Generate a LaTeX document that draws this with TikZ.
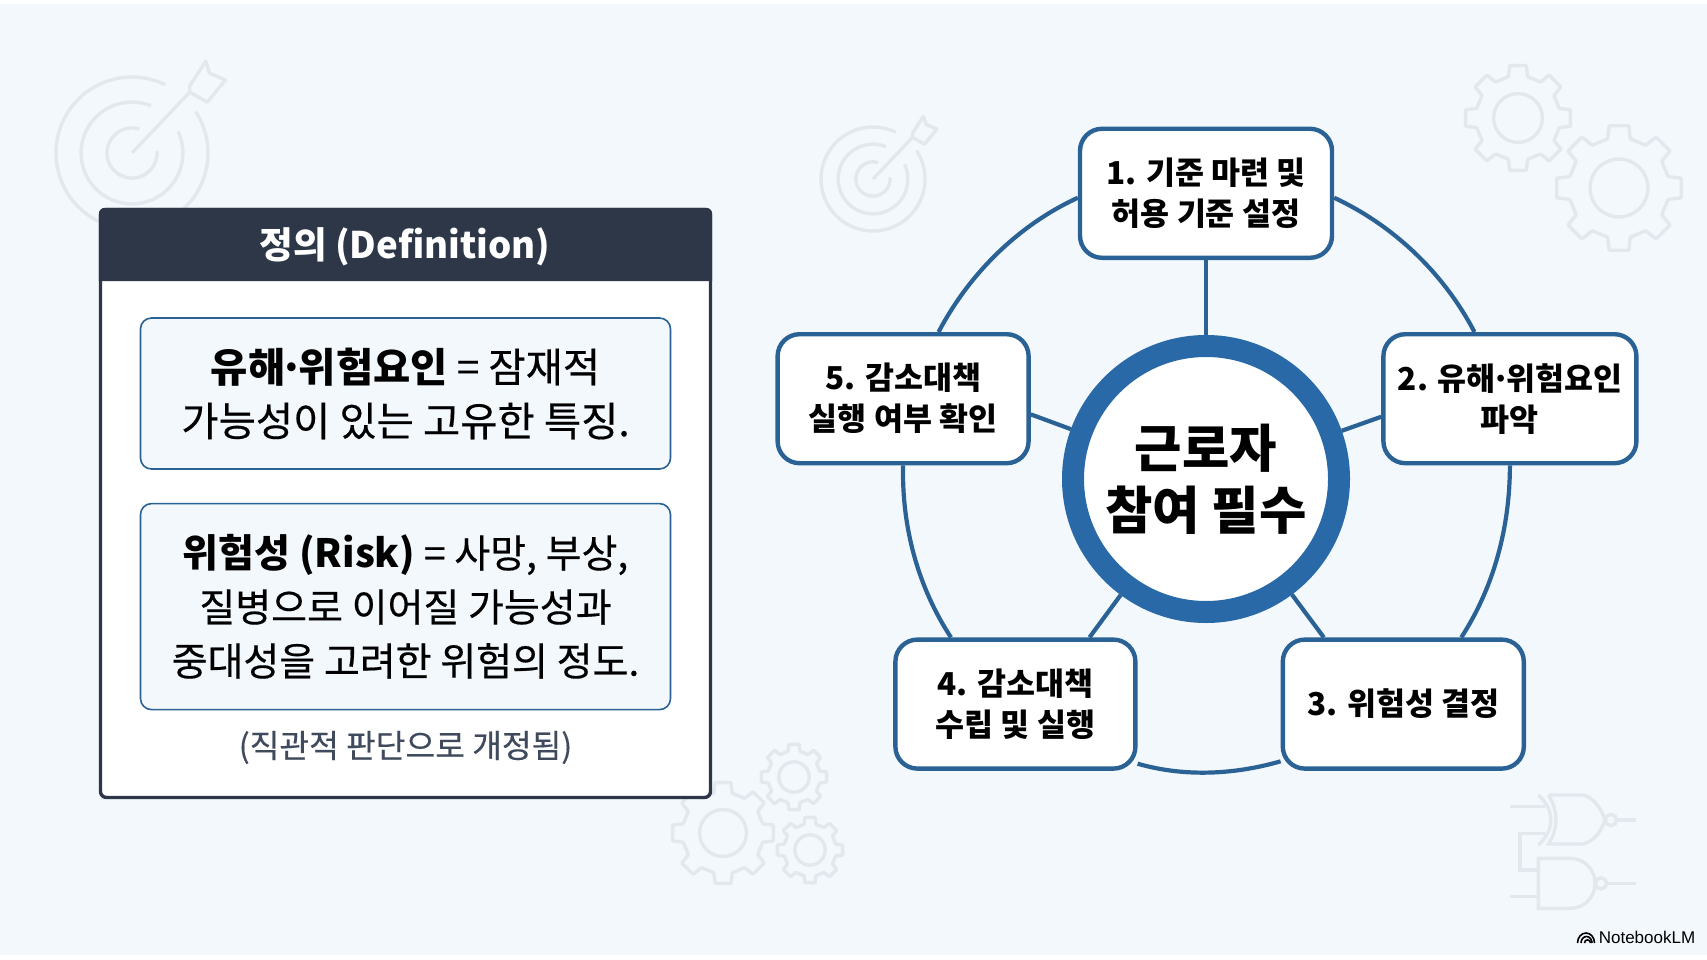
\documentclass[tikz,border=0pt]{standalone}
\usepackage{fontspec}
\setmainfont{Noto Sans CJK KR}
\newfontfamily\medfont[FakeBold=.4]{Noto Sans CJK KR}
\newfontfamily\logofont{Liberation Sans}
\usepackage{xcolor}
\usetikzlibrary{positioning}

\definecolor{pagebg}{HTML}{F3F8FC}
\definecolor{iconcol}{HTML}{E3E8EF}
\definecolor{headcol}{HTML}{2D3748}
\definecolor{ringcol}{HTML}{2B6295}
\definecolor{hubcol}{HTML}{2A69A8}
\definecolor{notecol}{HTML}{3F4A5C}

\newcommand{\keyterm}[1]{{\normalfont\bfseries #1}}
\newcommand{\tightdot}{\kern-.14em·\kern-.14em}

\tikzset{
  gearicon/.pic={
    \draw [icon,rounded corners=.8pt] (81:1)
      \foreach \a in {0,45,...,315} { -- (\a+81:1) -- (\a+99:1) -- (\a+103:.8) -- (\a+122:.8) } -- cycle;
    \draw [icon] (0,0) circle (.46);
  },
  targeticon/.pic={
    \draw [icon] (-64:1) arc [start angle=-64,end angle=-393,radius=1];
    \draw [icon] (-68:.67) arc [start angle=-68,end angle=-385,radius=.67];
    \draw [icon] (-73:.33) arc [start angle=-73,end angle=-365,radius=.33];
    \draw [icon] (0,0) -- (.76,-.8);
    \draw [icon,line join=round] (.76,-.885) -- (.97,-1.205) -- (1.02,-1.05) -- (1.23,-.96) -- (.99,-.67) -- (.76,-.8) -- cycle;
  }
}

\begin{document}
\begin{tikzpicture}[x=1pt,y=-1pt,auto]
  \tikzstyle{icon}=[draw=iconcol,line width=3.4pt]
  \tikzstyle{panel}=[rectangle,rounded corners=6pt,draw=headcol,line width=3.4pt,fill=white,inner sep=0pt,minimum width=610pt,minimum height=588pt]
  \tikzstyle{defbox}=[rectangle,rounded corners=11pt,draw=ringcol,line width=1.6pt,fill=pagebg,inner sep=0pt,minimum width=530pt,align=center]
  \tikzstyle{card}=[rectangle,rounded corners=22pt,draw=ringcol,line width=4.4pt,fill=white,inner sep=0pt,minimum height=129pt,align=center,font=\fontsize{31.5}{41}\selectfont\bfseries]
  \tikzstyle{hub}=[circle,draw=hubcol,line width=22pt,fill=white,inner sep=0pt,minimum size=266pt,align=center,font=\fontsize{51.5}{62}\selectfont\bfseries]
  \tikzstyle{link}=[draw=ringcol,line width=4.2pt]
  \tikzstyle{rim}=[link,looseness=.87]

  \useasboundingbox (0,0) rectangle (1707,960);
  \fill [white] (0,0) rectangle (1707,960);
  \fill [pagebg] (0,4) rectangle (1707,955);

  % Icons
  \pic [scale=76] at (132,153) {targeticon};
  \pic [scale=52] at (873,179) {targeticon};
  \pic [scale=53] at (1518,118) {gearicon};
  \pic [scale=63] at (1619,188) {gearicon};
  \pic [scale=51] at (723,833) {gearicon};
  \pic [scale=33] at (794,777) {gearicon};
  \pic [scale=33] at (810,850) {gearicon};
  \begin{scope}[shift={(1470,770)},scale=1/3]
    \draw [icon] (205,75) .. controls (255,120) and (255,180) .. (205,225);
    \draw [icon] (235,75) -- (340,75) .. controls (375,85) and (395,120) .. (405,150) .. controls (395,180) and (375,212) .. (340,222) -- (235,222) .. controls (265,180) and (265,120) .. (235,75);
    \draw [icon] (423,150) circle (17);
    \draw [icon] (440,150) -- (497,150);
    \draw [icon] (120,110) -- (225,110);
    \draw [icon] (225,190) -- (150,190) -- (150,300) -- (205,300);
    \draw [icon] (205,265) -- (300,265) .. controls (345,265) and (375,300) .. (375,340) .. controls (375,380) and (345,415) .. (300,415) -- (205,415) -- cycle;
    \draw [icon] (393,340) circle (17);
    \draw [icon] (410,340) -- (497,340);
    \draw [icon] (120,380) -- (205,380);
  \end{scope}

  % Definition panel
  \node [panel] (panel) at (405.5,503.5) {};
  \fill [headcol] (panel.west |- 0,281) [rounded corners=6pt] -- (panel.north west) -- (panel.north east) [sharp corners] -- (panel.east |- 0,281) -- cycle;
  \node [font=\fontsize{36.6}{44}\selectfont\bfseries,text=white] (title) at (405,247) {정의 (Definition)};
  \node [defbox,minimum height=151pt,font=\fontsize{40.5}{54}\selectfont\medfont] (hazard) at (405.5,393.5) {\keyterm{유해\tightdot 위험요인} = 잠재적\\가능성이 있는 고유한 특징.};
  \node [defbox,minimum height=206pt,below=33pt of hazard,font=\fontsize{39}{54}\selectfont\medfont] (risk) {\keyterm{위험성 (Risk)} = 사망, 부상,\\질병으로 이어질 가능성과\\중대성을 고려한 위험의 정도.};
  \node [font=\fontsize{32.3}{38}\selectfont\medfont,text=notecol,below=17pt of risk] (note) {(직관적 판단으로 개정됨)};

  % Cycle
  \node [hub] (hub) at (1206,479) {근로자\\참여 필수};
  \node [card,minimum width=252pt,above=75pt of hub] (card1) {1. 기준 마련 및\\허용 기준 설정};
  \node [card,minimum width=253pt,below right=72pt and 47pt of card1] (card2) {2. 유해\tightdot 위험요인\\파악};
  \node [card,minimum width=251pt,below left=72pt and 47pt of card1] (card5) {5. 감소대책\\실행 여부 확인};
  \node [card,minimum width=241pt,below=172pt of card2.south,xshift=-106.6pt] (card3) {3. 위험성 결정};
  \node [card,minimum width=240pt,left=143pt of card3] (card4) {4. 감소대책\\수립 및 실행};

  % Spokes
  \draw [link] (hub) -- (card1);
  \draw [link] (hub) -- (card2.188.8);
  \draw [link] (hub) -- (card3.140);
  \draw [link] (hub) -- (card4.42);
  \draw [link] (hub) -- (card5.-7.8);

  % Ring
  \draw [rim] (card1.-2) to [out=-25,in=117.6] (card2.118);
  \draw [rim] (card2.south) to [out=-90,in=57] (card3.49);
  \draw [rim] (card3.205) to [out=196,in=-16] (card4.-26);
  \draw [rim] (card4.134) to [out=123.3,in=-91.4] (card5.south);
  \draw [rim] (card5.62) to [out=62.3,in=-155.3] (card1.182);

  % Logo
  \node [font=\fontsize{17}{20}\selectfont\logofont,text=black,inner sep=0pt] (logo) at (1647,937) {NotebookLM};
  \draw [black,line width=1.6pt] (1577.5,943) arc [start angle=180,end angle=360,x radius=8.5,y radius=10];
  \draw [black,line width=1.6pt] (1581,943) arc [start angle=180,end angle=360,x radius=5.5,y radius=6.5];
  \draw [black,line width=1.6pt] (1584.5,943) arc [start angle=180,end angle=360,x radius=3,y radius=3.2];
\end{tikzpicture}
\end{document}
